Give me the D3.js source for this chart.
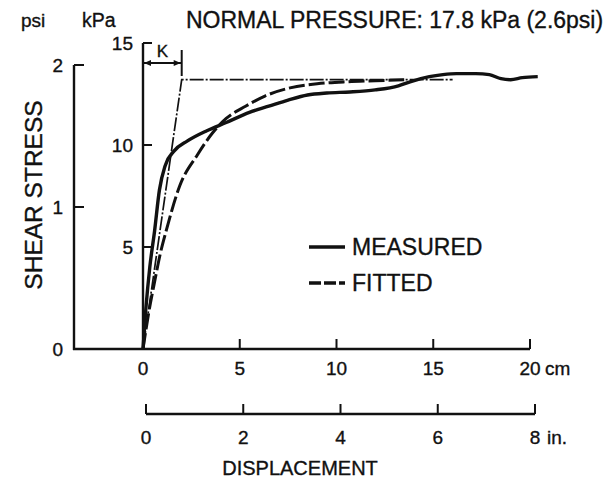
<!DOCTYPE html>
<html><head><meta charset="utf-8">
<script src="https://cdn.jsdelivr.net/npm/d3@7/dist/d3.min.js"></script>
<style>body{margin:0;background:#fff}svg{display:block}text{font-family:"Liberation Sans",Arial,sans-serif;fill:#111;stroke:#111;stroke-width:0.35}</style>
</head><body><svg id="c" width="610" height="485"></svg>
<script>
// ---- data ----
const measuredCm  = [0,0.15,0.35,0.6,0.85,1.15,1.6,2.3,3.3,4.3,5.5,6.5,7.5,8.5,9.5,10.7,12,13.2,13.8,14.8,15.5,16.2,17.2,17.9,18.5,19.0,19.6,20.4];
const measuredKpa = [0,2.0,4.0,5.8,7.8,9.0,9.7,10.2,10.7,11.1,11.6,11.9,12.2,12.45,12.55,12.6,12.7,12.9,13.1,13.35,13.45,13.5,13.5,13.45,13.25,13.2,13.3,13.35];
const fittedCm  = [0,0.3,0.6,0.9,1.2,1.9,2.8,3.6,4.3,5.3,6.3,7.6,9.0,10.5,12.0,13.5];
const fittedKpa = [0,1.8,3.3,4.7,5.8,8.0,9.5,10.6,11.3,11.9,12.4,12.8,13.0,13.1,13.15,13.2];
const tangentCm  = [0,2.0,16.0];
const tangentKpa = [0,13.2,13.2];
const kValue = 2.0;
const cmTicks  = [0,5,10,15,20];
const inTicks  = [0,2,4,6,8];
const kpaTicks = [5,10,15];
const psiTicks = [1,2];
const psiLabels = [0,1,2];
const title = "NORMAL PRESSURE: 17.8 kPa (2.6psi)";

// ---- scales ----
const svg = d3.select("#c");
const x   = d3.scaleLinear().domain([0,20]).range([143,530]);
const xin = d3.scaleLinear().domain([0,8]).range([146,535]);
const y   = d3.scaleLinear().domain([0,15]).range([349,43]);
const yp  = d3.scaleLinear().domain([0,2]).range([349,65]);
const psiX = 74, kpaX = x(0);
const fs = 19;

const ink = "#111";
// psi axis
svg.append("line").attr("x1",psiX).attr("x2",psiX).attr("y1",yp(2)).attr("y2",y(0)+1).attr("stroke",ink).attr("stroke-width",2.4);
psiTicks.forEach(t=>{
  svg.append("line").attr("x1",psiX).attr("x2",psiX+10).attr("y1",yp(t)).attr("y2",yp(t)).attr("stroke",ink).attr("stroke-width",2);
});
psiLabels.forEach(t=>{
  svg.append("text").attr("x",63).attr("y",yp(t)+7).attr("text-anchor","end").attr("font-size",fs).text(t);
});
// kPa axis
svg.append("line").attr("x1",kpaX).attr("x2",kpaX).attr("y1",y(15)).attr("y2",y(0)).attr("stroke",ink).attr("stroke-width",2.4);
kpaTicks.forEach(t=>{
  svg.append("line").attr("x1",kpaX).attr("x2",kpaX+9).attr("y1",y(t)).attr("y2",y(t)).attr("stroke",ink).attr("stroke-width",2);
  svg.append("text").attr("x",133).attr("y",y(t)+7).attr("text-anchor","end").attr("font-size",fs).text(t);
});
// headers
svg.append("text").attr("x",21).attr("y",27).attr("font-size",fs).text("psi");
svg.append("text").attr("x",82).attr("y",27).attr("font-size",fs+0.5).text("kPa");
svg.append("text").attr("x",186).attr("y",28).attr("font-size",23).text(title);
svg.append("text").attr("transform","translate(42,195) rotate(-90)").attr("text-anchor","middle").attr("font-size",24.5).text("SHEAR STRESS");

// cm axis
const cmY = y(0);
svg.append("line").attr("x1",psiX-1).attr("x2",x(20)).attr("y1",cmY).attr("y2",cmY).attr("stroke",ink).attr("stroke-width",2.4);
cmTicks.forEach(t=>{
  if(t>0) svg.append("line").attr("x1",x(t)).attr("x2",x(t)).attr("y1",cmY).attr("y2",cmY-10).attr("stroke",ink).attr("stroke-width",2);
  svg.append("text").attr("x",x(t)).attr("y",cmY+26).attr("text-anchor","middle").attr("font-size",fs).text(t);
});
svg.append("text").attr("x",x(20)+15).attr("y",cmY+26).attr("font-size",fs).text("cm");
// inch axis
const inY = 414;
svg.append("line").attr("x1",xin(0)).attr("x2",xin(8)).attr("y1",inY).attr("y2",inY).attr("stroke",ink).attr("stroke-width",2.4);
inTicks.forEach(t=>{
  svg.append("line").attr("x1",xin(t)).attr("x2",xin(t)).attr("y1",inY).attr("y2",inY-10).attr("stroke",ink).attr("stroke-width",2);
  svg.append("text").attr("x",xin(t)).attr("y",inY+30).attr("text-anchor","middle").attr("font-size",fs).text(t);
});
svg.append("text").attr("x",xin(8)+12).attr("y",inY+30).attr("font-size",fs).text("in.");
svg.append("text").attr("x",300).attr("y",475).attr("text-anchor","middle").attr("font-size",20).text("DISPLACEMENT");

// K annotation
const kx = x(kValue);
svg.append("line").attr("x1",kpaX).attr("x2",kpaX+9).attr("y1",y(15)).attr("y2",y(15)).attr("stroke",ink).attr("stroke-width",2);
svg.append("line").attr("x1",kx).attr("x2",kx).attr("y1",50).attr("y2",76).attr("stroke",ink).attr("stroke-width",2);
svg.append("line").attr("x1",kpaX).attr("x2",kx).attr("y1",63).attr("y2",63).attr("stroke",ink).attr("stroke-width",2);
svg.append("path").attr("d",`M${kpaX+1},63 l7,-3 l0,6 Z M${kx-1},63 l-7,-3 l0,6 Z`).attr("fill",ink);
svg.append("text").attr("x",(kpaX+kx)/2).attr("y",57).attr("text-anchor","middle").attr("font-size",17).text("K");

// curves
const line = d3.line().x(d=>x(d[0])).y(d=>y(d[1])).curve(d3.curveMonotoneX);
const lineL = d3.line().x(d=>x(d[0])).y(d=>y(d[1]));
svg.append("path").datum(d3.zip(tangentCm,tangentKpa)).attr("d",lineL).attr("fill","none")
  .attr("stroke",ink).attr("stroke-width",1.7).attr("stroke-dasharray","14,2,2,2");
svg.append("path").datum(d3.zip(fittedCm,fittedKpa)).attr("d",line).attr("fill","none")
  .attr("stroke",ink).attr("stroke-width",3).attr("stroke-dasharray","16,4");
svg.append("path").datum(d3.zip(measuredCm,measuredKpa)).attr("d",line).attr("fill","none")
  .attr("stroke",ink).attr("stroke-width",3.4);

// legend
const lg = [{label:"MEASURED",dash:null,y:247},{label:"FITTED",dash:"12,3",y:283}];
lg.forEach(d=>{
  svg.append("line").attr("x1",309).attr("x2",345).attr("y1",d.y).attr("y2",d.y).attr("stroke",ink).attr("stroke-width",3.4).attr("stroke-dasharray",d.dash);
  svg.append("text").attr("x",352).attr("y",d.y+8).attr("font-size",23).text(d.label);
});
</script></body></html>
